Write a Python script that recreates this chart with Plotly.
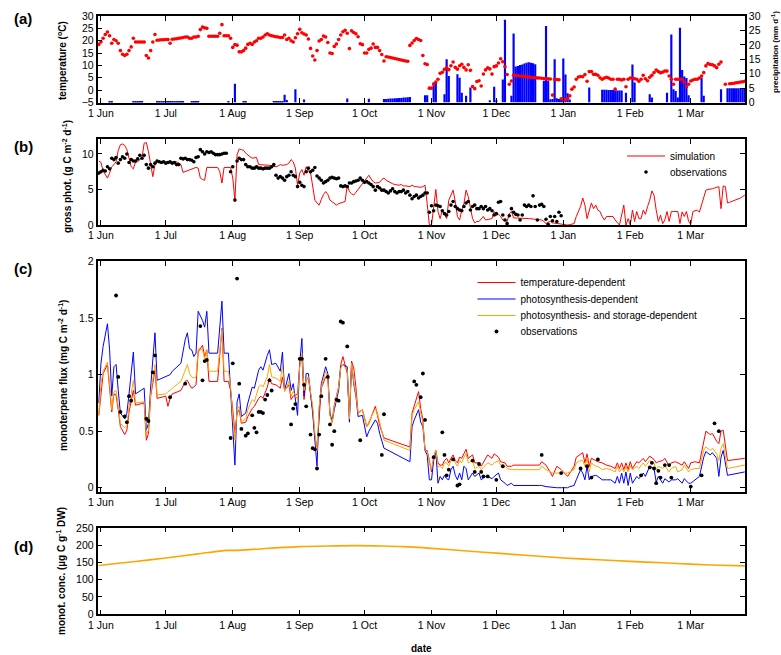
import numpy as np
import pandas as pd
import plotly.graph_objects as go

SEASON_START = pd.Timestamp("2004-06-01")


def to_dates(days):
    return SEASON_START + pd.to_timedelta(np.asarray(days, dtype=float), unit="D")


def daily_dates(first_day, n):
    return to_dates(np.arange(first_day, first_day + n))


# ---------------- (a) daily air temperature (degC), from 31 May ----------------
temp_first_day = -1
temp_may = [18.5]
temp_jun = [19.5, 21, 22.5, 23.5, 22, 19, 20.5, 20, 19, 16, 14.5, 14, 14.5, 16, 17.5, 21, 19.5, 19.5, 19.5, 19.5,
            19.5, 14, 13, 16, 19.5, 22.5, 20.2, 20.3, 20.4, 20.4]
temp_jul = [20.5, 20.5, 19, 20.6, 20.7, 20.8, 21, 21.1, 21.3, 21.5, 21.5, 21, 21, 21.5, 21.5, 21.8, 24.5, 25.5, 25.2,
            25, 21.8, 21.8, 21.8, 21.8, 21.8, 23, 26.5, 22, 22, 22, 21]
temp_aug = [17.3, 18.4, 18.2, 15.5, 15.5, 16, 17, 18.5, 19, 18.5, 19.5, 20, 21, 21, 21.5, 22.3, 22.8, 22.3, 22, 21.8,
            21.6, 21.5, 21.3, 21.3, 22.3, 20.5, 21, 20, 19.5, 21.2, 22.8]
temp_sep = [24.6, 23.2, 22.7, 22.3, 20.7, 16.9, 13.8, 12.2, 16, 19.9, 20.5, 21.9, 21.5, 19.3, 15, 14.8, 17.7, 18.7,
            20.5, 22.3, 23.6, 24.2, 23, 16.8, 24, 23.3, 22.8, 21.6, 18.8, 18.4]
temp_oct = [15, 15, 16.5, 17, 18.7, 17.3, 17.3, 16, 14.4, 11.8, 13.5, 13.4, 13.2, 13.0, 12.8, 12.6, 12.4, 12.2, 12.0,
            11.8, 11.7, 18.1, 19.1, 20.1, 20.9, 20.5, 20.1, 14, 10.7, 10.4, 0.8]
temp_nov = [0.8, 2.5, 3.3, 4.4, 6.8, 7.2, 8.4, 9.0, 8.3, 9.9, 11.4, 9.2, 8.5, 9.9, 10.5, 9.2, 8.2, 10.3, 8.0, 1.5,
            0.6, 3.5, 3.8, 1.7, 6.5, 8.2, 9.0, 8.6, 6.5, 9.5]
temp_dec = [9.8, 11, 12.7, 11.5, 9.5, 6.3, 2.4, 3.7, 6.0, 5.9, 5.8, 5.7, 5.6, 5.5, 5.4, 5.3, 5.2, 5.1, 5.0, 4.95, 4.9,
            4.8, 4.7, 4.6, 4.55, 4.5, -2, 4.35, 4.3, 4.2, -3.5]
temp_jan = [-3.7, -3.7, -3.5, -2.3, 0.4, 1.3, 4.4, 5.3, 5.5, 5.4, 6.3, 3.6, 7.5, 7.5, 6.4, 6.4, 6.0, 5.0, 4.4, 4.9,
            5.2, 4.9, 4.4, 4.4, 0.4, 4.4, 4.4, 4.1, 4.4, 1.4, 4.4]
temp_feb = [4.9, 4.9, 4.6, 4.4, 3.6, 4.4, 6.0, 4.6, 3.8, 5.2, 6.0, 7.1, 8.1, 7.5, 7.0, 7.3, 7.7, 7.7, 5.7, 4.4, 2.4,
            4.4, 4.4, 4.4, 4.4, 3.3, 1.4, 2.4]
temp_mar = [3.7, 4.1, 4.4, 4.4, 4.9, 5.7, 7.1, 9.8, 10.8, 10.4, 10.3, 9.8, 9.1, 10.5, 11.4, None, 2.4, None, 2.6, 2.7,
            2.8, 3.0, 3.1, 3.3, 3.4, 3.6]
temperature = (temp_may + temp_jun + temp_jul + temp_aug + temp_sep + temp_oct + temp_nov + temp_dec + temp_jan
               + temp_feb + temp_mar)

# ---------------- (a) daily precipitation (mm/d), from 31 May ----------------
prec_may = [0]
prec_jun = [0, 0, 0, 0, 0.3, 0.3, 0, 0, 0, 0, 0, 0, 0, 0, 0, 0.3, 0.3, 0.3, 0.3, 0.3, 0, 0, 0, 0, 0, 0, 0.2, 0.2, 0.2,
            0.2]
prec_jul = [0.2, 0.2, 0.2, 0.2, 0.2, 0.2, 0.2, 0.2, 0.2, 0, 0, 0, 0.3, 0.3, 0.3, 0.3, 0, 0, 0, 0, 0, 0, 0, 0, 0, 0, 0,
            0, 0, 0.5, 0]
prec_aug = [0, 6.5, 0, 0, 0, 0.2, 0.2, 0, 0, 0, 0, 0, 0, 0, 0, 0, 0, 0, 0, 0.4, 0.4, 0.4, 0.4, 0.4, 2.7, 0.9, 0, 0, 0,
            4.6, 0]
prec_sep = [0, 0, 1.0, 0, 0, 0, 0, 0, 0, 0, 0, 0, 0, 0, 0, 0, 0, 0, 0, 0, 0, 0, 1.4, 0, 0, 0, 0, 0, 0, 0]
prec_oct = [0, 0, 1.3, 0, 0, 0, 0, 0, 0, 1.2, 1.25, 1.3, 1.35, 1.4, 1.45, 1.5, 1.55, 1.6, 1.7, 1.75, 1.8, 1.9, 0, 0,
            0, 0, 0, 0, 2.5, 2.5, 0]
prec_nov = [0, 6.9, 7.1, 0, 0, 0, 2.9, 15, 9.2, 0, 0, 0, 9.8, 8.6, 3.4, 0, 2.3, 0, 5.2, 0, 0, 0, 0, 0, 0, 0, 0, 0.8,
            0, 5.5]
prec_dec = [0.8, 0, 0, 8, 28.7, 0, 0, 2.3, 23.9, 12.5, 12.7, 13, 13.2, 13.5, 13.8, 14, 13.8, 13.6, 13.3, 0, 0, 0, 7.5,
            26.5, 7.5, 1.1, 1.2, 15, 1.5, 1.2, 1.0]
prec_jan = [15.3, 9.7, 3.2, 1, 0, 0, 0, 0, 0, 0, 0, 0, 5.2, 0, 0, 0, 0, 0, 4.4, 4.4, 4.4, 4.3, 4.3, 4.3, 4.2, 4.2,
            4.2, 4.2, 0, 3.4, 0]
prec_feb = [0, 13.2, 6.9, 0, 0, 0, 0, 0, 0, 2.9, 1.7, 0, 0, 0, 0, 0, 0, 3.4, 0, 23.6, 4.6, 4.0, 1.7, 25.9, 11.3, 9,
            8.5, 2.5]
prec_mar = [0, 0, 0, 0, 0, 8.6, 2.3, 0, 0, 0, 0, 0, 0, 0, 4.6, 0, 0, 4.9, 4.9, 4.9, 4.9, 4.9, 4.9, 4.9, 4.9, 4.9]
precipitation = (prec_may + prec_jun + prec_jul + prec_aug + prec_sep + prec_oct + prec_nov + prec_dec + prec_jan
                 + prec_feb + prec_mar)

# ---------------- (b) gross photosynthesis (g C m-2 d-1) ----------------
gpp_sim_may = [9.0]
gpp_sim_jun = [8.8, 7.6, 7.0, 6.6, 7.3, 8.2, 8.5, 8.9, 10.5, 11.3, 11.4, 11.2, 10.6, 9.4, 8.2, 7.9, 8.9, 8.9, 9.2, 9.5,
               11.5, 11.6, 10.3, 8.7, 6.8, 8.5, 8.9, 8.9, 8.9, 8.8]
gpp_sim_jul = [8.9, 8.8, 8.7, 8.8, 8.8, 8.9, 8.7, 8.5, 7.4, 7.5, 7.6, 7.7, 7.9, 8.0, 8.1, 8.0, 6.6, 6.4, 6.3, 8.1, 8.1,
               8.1, 8.1, 8.1, 8.1, 7.5, 5.9, 8.1, 8.1, 8.1, 8.1]
gpp_sim_aug = [6.6, 3.5, 9.9, 10.7, 10.6, 10.5, 10.1, 9.8, 9.6, 9.4, 9.5, 9.5, 8.5, 8.5, 8.45, 8.4, 8.4, 8.4, 8.3, 8.2,
               8.2, 8.3, 8.5, 8.4, 8.4, 8.5, 8.7, 9.2, 8.9, 8.0, 5.6]
gpp_sim_sep = [7.3, 7.8, 7.0, 8.2, 7.6, 7.4, 5.2, 3.5, 3.1, 2.8, 3.6, 4.3, 4.7, 4.3, 3.5, 3.3, 3.1, 2.8, 3.0, 3.1, 3.2,
               3.3, 5.6, 4.7, 4.4, 4.2, 4.6, 5.0, 5.4, 5.7]
gpp_sim_oct = [6.2, 6.6, 7.0, 6.5, 6.1, 5.9, 5.95, 6.0, 6.4, 6.6, 6.3, 6.1, 6.0, 5.8, 5.7, 5.6, 5.6, 5.7, 5.5, 5.5,
               5.4, 5.4, 5.6, 5.4, 5.4, 5.3, 5.3, 5.4, 5.6, 3.0, 0]
gpp_sim_nov = [0, 2.5, 5.0, 1.9, 0.9, 2.1, 1.4, 0.9, 3.5, 4.1, 4.9, 3.3, 1.2, 0.7, 2.1, 3.0, 4.9, 4.0, 2.6, 0.9, 0.3,
               0.5, 0.5, 0.8, 1.2, 0.7, 0.8, 0.9, 0.9, 1.9]
gpp_sim_dec = [1.4, 1.5, 1.2, 0.7, 0.6, 0.5, 1.6, 1.9, 1.0, 1.0, 1.0, 0.98, 0.96, 0.94, 0.92, 0.9, 0.88, 0.86, 0.84,
               0.82, 0.8, 0.7, 0.5, 0.2, 0.4, 0.5, 0.3, 0.25, 0.2, 0.1, 0.05]
gpp_sim_jan = [0, 0, 0, 0.05, 0.1, 0.2, 1.2, 2.0, 2.6, 3.8, 2.8, 0.9, 2.1, 3.1, 2.3, 2.8, 2.1, 1.9, 1.2, 0.7, 1.2, 1.2,
               1.2, 1.2, 0.7, 0.3, 0, 1.4, 2.8, 0, 0.9]
gpp_sim_feb = [0, 2.1, 0.5, 1.9, 0.9, 0.9, 2.1, 1.5, 2.6, 3.5, 4.8, 4.2, 2.1, 0.5, 1.4, 0.2, 0.7, 1.9, 0.5, 1.9, 1.9,
               1.9, 1.9, 0.2, 1.85, 1.2, 1.9, 0.5]
gpp_sim_mar = [0.1, 1.9, 2.0, 2.1, 1.8, 2.8, 4.0, 4.9, 5.0, 5.0, 5.1, 5.2, 5.3, 5.4, 2.3, 5.5, 5.4, 3.1, 3.2, 3.3, 3.4,
               3.5, 3.7, 3.8, 4.0, 4.2]
gpp_simulation = (gpp_sim_may + gpp_sim_jun + gpp_sim_jul + gpp_sim_aug + gpp_sim_sep + gpp_sim_oct + gpp_sim_nov
                  + gpp_sim_dec + gpp_sim_jan + gpp_sim_feb + gpp_sim_mar)

# observations: 31 May - 29 Jul, then 30 Jul - 1 Jan
gpp_obs_first_day_1 = -1
gpp_obs_1 = [7.3, 7.5, 7.7, 7.6, 8.2, 7.9, 9.4, 9.2, 9.5, 8.7, 9.2, 9.6, 9.4, 10.0, 8.8, 9.2, 9.0, 9.0, 9.3, 9.8,
             9.4, 9.8, 8.5, 8.0, 8.5, 8.2, 8.7, 9.0, 8.9, 8.8, 8.9, 8.7, 8.8, 8.9, 8.7, 8.8, 8.5, 8.5, 9.4, 9.3,
             9.4, 9.2, 9.2, 9.1, 8.9, 9.5, 9.6, 10.6, 10.3, 10.0, 10.3, 10.2, 10.3, 10.1, 9.9, 9.9, 9.9, 10.0, 10.1,
             10.1]
gpp_obs_first_day_2 = 60
gpp_obs_2 = [7.5, 8.2, 3.5, 9.0, 9.4, 9.2, 9.2, 8.5, 8.2, 8.2, 8.0, 8.0, 8.2, 8.0, 8.0, 7.9, 8.0, 8.0, 8.0, 8.2,
             8.5, 7.0, 6.6, 6.8, 6.6, 6.3, 6.8, 7.0, 7.5, 7.0, 6.8, 5.4, 6.0, 5.6, 5.4, 7.5, 8.0, 7.5, 7.7, 8.1,
             6.9, 6.6, 6.3, 5.9, 6.1, 6.3, 6.6, 6.7, 6.6, 6.5, 6.6, 5.5, 5.4, 5.5, 5.4, 5.9, 5.9, 6.1, 6.2, 6.3,
             6.6, 6.3, 6.0, 6.1, 5.9, 5.7, 5.4, 4.9, 5.4, 5.2, 4.9, 4.9, 4.7, 4.5, 4.8, 5.1, 4.7, 4.5,
             4.7, 4.7, 4.9, 4.5, 4.7, 4.2, 3.7, 4.0, 4.2, 3.8, 4.0, 4.2, 4.5, 4.5,
             1.8, 2.7, 2.0, 2.8, 2.7, 2.6, 2.0, 1.6, 1.4, 1.9, 2.8, 3.3, 2.6, 2.3, 2.1, 2.0, 2.6, 3.1, 3.3, 2.1,
             2.6, 2.8, 2.3, 2.3, 2.6, 2.3, 2.6, 2.1, 2.3, 2.0, 1.4, 1.6, 3.2, 3.3, 1.4, 0.7, 0.2, 1.3, 2.3, 1.8,
             1.5, 1.4, 0.7, 1.4, 2.8, 2.6, 2.8, 2.6, 4.1, 2.6, 0.7, 2.8, 2.9, 2.6, 0.8, 0.1, 1.2, 0.6, 1.2, 0.5,
             1.8, 1.3]

# ---------------- (c) monoterpene flux (mg C m-2 d-1) ----------------
mono_days = [-1, 0, 1, 3, 4, 5, 6, 7, 8, 9, 11, 12, 13, 15, 16, 20, 21, 22, 23, 25, 26, 30, 31, 32, 33, 37, 39, 40,
             41, 42, 43, 44, 45, 47, 48, 49, 50, 54, 56, 57, 59, 60, 61, 62, 63, 64, 65, 67, 68, 70, 71, 73, 74, 75,
             77, 78, 79, 81, 83, 84, 85, 87, 88, 89, 91, 92, 93, 94, 95, 96, 98, 99, 100, 101, 102, 104, 105, 106,
             107, 108, 110, 111, 112, 114, 115, 116, 117, 118, 119, 121, 123, 124, 127, 128, 129, 131, 143, 144,
             145, 147, 148, 149, 150, 151, 152, 153, 154, 155, 156, 157, 158, 159, 160, 161, 162, 163, 164, 165,
             166, 167, 168, 169, 170, 172, 173, 175, 176, 178, 179, 181, 182, 184, 185, 187, 188, 190, 191, 203,
             204, 206, 209, 211, 213, 216, 217, 219, 220, 222, 223, 224, 225, 226, 227, 229, 230, 232, 234, 236,
             238, 239, 240, 241, 242, 243, 244, 245, 246, 248, 249, 251, 252, 254, 256, 257, 258, 260, 261, 263,
             264, 266, 267, 269, 270, 272, 273, 275, 277, 279, 280, 282, 283, 285, 286, 287, 288, 290, 298]
mono_temperature_dep = [
    0.64, 0.86, 1.01, 1.09, 0.89, 0.67, 0.83, 0.82, 0.69, 0.54, 0.47, 0.51, 0.67, 0.86, 0.73, 0.75, 0.42, 0.48,
    0.81, 1.04, 0.79, 0.81, 0.72, 0.79, 0.83, 0.86, 0.94, 0.95, 0.91, 0.88, 0.89, 0.91, 1.2, 1.26, 1.16, 1.22,
    0.94, 0.94, 1.41, 0.94, 0.94, 0.86, 0.69, 0.48, 0.66, 0.69, 0.57, 0.58, 0.63, 0.7, 0.72, 0.79, 0.81, 0.79,
    0.89, 0.97, 0.92, 0.91, 0.88, 0.98, 0.86, 0.91, 0.78, 0.81, 0.83, 1.09, 1.16, 0.78, 0.95, 0.97, 0.69, 0.45,
    0.36, 0.66, 0.88, 0.98, 0.97, 0.64, 0.6, 0.73, 0.89, 1.09, 1.16, 1.01, 0.63, 1.12, 1.06, 0.89, 0.66, 0.69,
    0.54, 0.57, 0.72, 0.64, 0.55, 0.44, 0.36, 0.66, 0.72, 0.85, 0.7, 0.6, 0.33, 0.33, 0.24, 0.14, 0.27, 0.33,
    0.22, 0.2, 0.2, 0.24, 0.26, 0.22, 0.26, 0.29, 0.24, 0.22, 0.27, 0.26, 0.3, 0.34, 0.26, 0.29, 0.22, 0.22,
    0.19, 0.26, 0.29, 0.26, 0.3, 0.27, 0.23, 0.22, 0.19, 0.19, 0.2, 0.2, 0.23, 0.2, 0.1, 0.19, 0.16, 0.1, 0.13,
    0.19, 0.27, 0.3, 0.31, 0.22, 0.3, 0.19, 0.26, 0.24, 0.23, 0.22, 0.2, 0.19, 0.17, 0.22, 0.17, 0.22, 0.16,
    0.22, 0.16, 0.23, 0.17, 0.23, 0.22, 0.26, 0.23, 0.28, 0.25, 0.22, 0.23, 0.24, 0.26, 0.19, 0.22, 0.23, 0.22,
    0.2, 0.23, 0.17, 0.22, 0.23, 0.22, 0.42, 0.5, 0.47, 0.48, 0.41, 0.39, 0.5, 0.51, 0.24, 0.26]
mono_photosynthesis_dep = [
    0.75, 1.1, 1.25, 1.45, 1.22, 0.81, 1.07, 1.09, 0.86, 0.66, 0.61, 0.66, 0.83, 1.2, 0.83, 0.88, 0.51, 0.57,
    0.89, 1.37, 0.95, 0.98, 0.99, 1.0, 1.03, 1.1, 1.31, 1.37, 1.23, 1.22, 1.16, 1.19, 1.56, 1.48, 1.42, 1.56,
    1.19, 1.19, 1.65, 1.19, 1.19, 0.86, 0.48, 0.2, 0.76, 0.83, 0.63, 0.66, 0.75, 0.89, 0.88, 1.04, 1.07, 1.04,
    1.17, 1.22, 1.09, 1.1, 1.03, 1.2, 0.86, 1.01, 0.86, 0.92, 0.64, 1.1, 1.32, 0.81, 1.01, 1.01, 0.66, 0.42,
    0.19, 0.69, 0.92, 1.07, 1.01, 0.66, 0.58, 0.69, 0.86, 1.07, 1.09, 1.07, 0.58, 1.1, 0.92, 0.81, 0.63, 0.64,
    0.45, 0.5, 0.6, 0.57, 0.48, 0.35, 0.23, 0.54, 0.6, 0.69, 0.58, 0.54, 0.33, 0.29, 0.07, 0.07, 0.24, 0.32,
    0.04, 0.1, 0.07, 0.11, 0.08, 0.07, 0.16, 0.19, 0.11, 0.07, 0.13, 0.07, 0.19, 0.17, 0.07, 0.13, 0.1, 0.13,
    0.07, 0.1, 0.1, 0.08, 0.1, 0.13, 0.07, 0.04, 0.02, 0.04, 0.02, 0.02, 0.02, 0.01, 0.0, 0.0, 0.0, 0.0, 0.01,
    0.02, 0.07, 0.16, 0.13, 0.07, 0.19, 0.07, 0.1, 0.11, 0.1, 0.07, 0.07, 0.07, 0.04, 0.1, 0.04, 0.13, 0.04,
    0.14, 0.02, 0.13, 0.04, 0.1, 0.08, 0.13, 0.1, 0.19, 0.17, 0.05, 0.1, 0.04, 0.08, 0.05, 0.07, 0.07, 0.08,
    0.04, 0.08, 0.04, 0.04, 0.07, 0.1, 0.27, 0.32, 0.29, 0.31, 0.26, 0.1, 0.27, 0.33, 0.11, 0.14]
mono_storage_dep = [
    0.64, 0.92, 1.03, 1.11, 0.92, 0.69, 0.85, 0.86, 0.72, 0.57, 0.53, 0.55, 0.72, 0.95, 0.75, 0.76, 0.47, 0.51,
    0.83, 1.09, 0.82, 0.83, 0.85, 0.86, 0.88, 0.94, 1.04, 1.09, 1.01, 0.98, 0.97, 0.98, 1.23, 1.22, 1.14, 1.22,
    1.03, 1.03, 1.4, 1.03, 1.03, 0.89, 0.63, 0.42, 0.69, 0.72, 0.58, 0.61, 0.69, 0.78, 0.76, 0.89, 0.91, 0.89,
    0.98, 1.09, 0.98, 0.97, 0.94, 1.09, 0.85, 0.94, 0.81, 0.85, 0.78, 1.07, 1.19, 0.86, 0.97, 0.98, 0.72, 0.48,
    0.33, 0.72, 0.89, 1.03, 0.98, 0.64, 0.57, 0.72, 0.89, 1.06, 1.09, 1.04, 0.61, 1.1, 0.94, 0.83, 0.66, 0.69,
    0.54, 0.58, 0.7, 0.66, 0.57, 0.42, 0.33, 0.64, 0.69, 0.76, 0.66, 0.58, 0.33, 0.32, 0.22, 0.16, 0.27, 0.33,
    0.19, 0.19, 0.17, 0.22, 0.22, 0.19, 0.24, 0.27, 0.22, 0.19, 0.24, 0.22, 0.27, 0.3, 0.22, 0.24, 0.17, 0.19,
    0.16, 0.2, 0.22, 0.2, 0.22, 0.24, 0.2, 0.19, 0.17, 0.16, 0.16, 0.16, 0.19, 0.16, 0.13, 0.13, 0.13, 0.13,
    0.14, 0.16, 0.22, 0.24, 0.24, 0.19, 0.26, 0.14, 0.22, 0.19, 0.19, 0.16, 0.17, 0.16, 0.14, 0.19, 0.14, 0.17,
    0.14, 0.19, 0.14, 0.19, 0.16, 0.19, 0.17, 0.22, 0.19, 0.24, 0.22, 0.16, 0.19, 0.17, 0.19, 0.14, 0.17, 0.19,
    0.14, 0.16, 0.2, 0.14, 0.16, 0.17, 0.17, 0.33, 0.36, 0.33, 0.35, 0.3, 0.24, 0.35, 0.39, 0.17, 0.2]

mono_obs_days = [7, 8, 9, 11, 12, 13, 14, 21, 22, 24, 25, 32, 39, 46, 47, 48, 49, 60, 61, 63, 64, 65, 67, 68, 70,
                 71, 72, 73, 74, 75, 76, 77, 78, 79, 88, 89, 90, 92, 93, 94, 95, 97, 98, 99, 100, 101, 102, 104,
                 105, 106, 107, 108, 109, 110, 111, 112, 114, 120, 130, 131, 145, 146, 148, 149, 150, 154, 158,
                 159, 160, 161, 163, 165, 166, 172, 173, 175, 176, 177, 179, 183, 186, 204, 213, 222, 225, 227,
                 230, 250, 254, 255, 256, 257, 258, 259, 261, 263, 264, 273, 278, 284, 286]
mono_obs = [1.7, 0.98, 0.67, 0.63, 0.58, 0.81, 0.77, 0.61, 0.59, 1.02, 1.17, 0.8, 0.92, 1.43, 0.95, 1.12, 1.13,
            0.44, 1.1, 1.85, 0.92, 0.52, 0.46, 0.48, 0.64, 0.53, 0.49, 0.67, 0.67, 0.66, 0.78, 0.82, 0.95, 0.86,
            0.56, 0.7, 0.74, 1.14, 1.14, 0.91, 0.72, 0.47, 0.35, 0.34, 0.17, 0.47, 0.81, 1.14, 0.98, 0.56, 0.38,
            0.5, 0.78, 0.77, 1.47, 1.46, 1.25, 0.42, 0.29, 0.65, 0.94, 0.91, 0.8, 1.01, 0.6, 0.27, 0.49, 0.29,
            0.11, 0.16, 0.25, 0.02, 0.03, 0.24, 0.14, 0.21, 0.14, 0.1, 0.1, 0.07, 0.19, 0.29, 0.13, 0.17, 0.19,
            0.09, 0.25, 0.11, 0.18, 0.22, 0.17, 0.04, 0.15, 0.09, 0.2, 0.2, 0.09, 0.01, 0.11, 0.57, 0.5]

# ---------------- (d) monoterpene storage concentration (ug C g-1 DW) ----------------
conc_days = [-1, 0, 15, 30, 45, 58, 62, 75, 92, 105, 118, 130, 140, 153, 168, 183, 198, 214, 230, 245, 260, 273,
             286, 298]
conc_values = [141, 142, 152, 163, 175, 185, 185, 190, 196, 198, 199, 198, 196, 191, 184, 177, 170, 163, 158, 153,
               149, 145, 142, 140]

assert len(temperature) == 300 and len(precipitation) == 300 and len(gpp_simulation) == 300
assert len(gpp_obs_1) == 60 and len(gpp_obs_2) == 154
assert len(mono_days) == len(mono_temperature_dep) == len(mono_photosynthesis_dep) == len(mono_storage_dep)
assert len(mono_obs_days) == len(mono_obs)
assert len(conc_days) == len(conc_values)

# ---------------- figure ----------------
RED, BLUE, ORANGE = "#ff0000", "#0000ff", "#ffa500"
FONT = "Liberation Sans, Arial, Helvetica, sans-serif"
W, H = 781, 655

daily_x = daily_dates(temp_first_day, 300)
gpp_obs_x = list(daily_dates(gpp_obs_first_day_1, len(gpp_obs_1))) + list(
    daily_dates(gpp_obs_first_day_2, len(gpp_obs_2)))
gpp_obs_y = gpp_obs_1 + gpp_obs_2

fig = go.Figure()
fig.add_trace(go.Bar(x=daily_x, y=precipitation, xaxis="x", yaxis="y", marker=dict(color=BLUE, line=dict(width=0)),
                     width=86400000, showlegend=False))
fig.add_trace(go.Scatter(x=daily_x, y=temperature, xaxis="x", yaxis="y2", mode="markers",
                         marker=dict(color=RED, size=3.6), showlegend=False))

fig.add_trace(go.Scatter(x=daily_x, y=gpp_simulation, xaxis="x2", yaxis="y3", mode="lines",
                         line=dict(color=RED, width=1), name="simulation", legend="legend"))
fig.add_trace(go.Scatter(x=gpp_obs_x, y=gpp_obs_y, xaxis="x2", yaxis="y3", mode="markers",
                         marker=dict(color="black", size=3.6), name="observations", legend="legend3"))

mono_x = to_dates(mono_days)
fig.add_trace(go.Scatter(x=mono_x, y=mono_temperature_dep, xaxis="x3", yaxis="y4", mode="lines",
                         line=dict(color=RED, width=1), name="temperature-dependent", legend="legend2"))
fig.add_trace(go.Scatter(x=mono_x, y=mono_photosynthesis_dep, xaxis="x3", yaxis="y4", mode="lines",
                         line=dict(color=BLUE, width=1), name="photosynthesis-dependent", legend="legend4"))
fig.add_trace(go.Scatter(x=mono_x, y=mono_storage_dep, xaxis="x3", yaxis="y4", mode="lines",
                         line=dict(color=ORANGE, width=1), name="photosynthesis- and storage-dependent",
                         legend="legend5"))
fig.add_trace(go.Scatter(x=to_dates(mono_obs_days), y=mono_obs, xaxis="x3", yaxis="y4", mode="markers",
                         marker=dict(color="black", size=3.8), name="observations", legend="legend6"))

fig.add_trace(go.Scatter(x=to_dates(conc_days), y=conc_values, xaxis="x4", yaxis="y5", mode="lines",
                         line=dict(color=ORANGE, width=1.6, shape="spline", smoothing=0.8), showlegend=False))

x_dom = [97.5 / W, 745 / W]


def ydom(top_px, bottom_px):
    return [1 - bottom_px / H, 1 - top_px / H]


tickfont = dict(family=FONT, size=10.5, color="black")
x_range = [to_dates([-1.6])[0], to_dates([298.1])[0]]
x_common = dict(type="date", range=x_range, domain=x_dom, tickformat="%-d %b", dtick="M1", tick0="2004-06-01",
                ticks="inside", ticklen=5, tickwidth=1, tickcolor="black", mirror="ticks", showline=True,
                linecolor="black", linewidth=1.5, showgrid=False, zeroline=False, tickfont=tickfont,
                automargin=False)
y_common = dict(ticks="inside", ticklen=5, tickwidth=1, tickcolor="black", showline=True, linecolor="black",
                linewidth=1.5, showgrid=False, zeroline=False, tickfont=tickfont, automargin=False)


def legend_at(x_px, y_px):
    return dict(x=x_px / W, y=1 - y_px / H, xanchor="left", yanchor="middle", bgcolor="rgba(0,0,0,0)",
                font=dict(family=FONT, size=10, color="black"), itemwidth=38, tracegroupgap=0, borderwidth=0)


fig.update_layout(
    template="none",
    width=W, height=H, autosize=False, margin=dict(l=0, r=0, t=0, b=0, pad=0),
    paper_bgcolor="white", plot_bgcolor="white", font=dict(family=FONT, color="black"),
    barmode="overlay",
    xaxis=dict(x_common, anchor="y"),
    yaxis=dict(y_common, domain=ydom(16, 102.5), anchor="x", side="right", range=[0, 30], dtick=5),
    yaxis2=dict(y_common, overlaying="y", anchor="x", side="left", range=[-5, 30], dtick=5),
    xaxis2=dict(x_common, anchor="y3"),
    yaxis3=dict(y_common, domain=ydom(139, 225), anchor="x2", range=[0, 12.1], tickvals=[0, 5, 10], mirror="ticks"),
    xaxis3=dict(x_common, anchor="y4"),
    yaxis4=dict(y_common, domain=ydom(261, 491.7), anchor="x3", range=[-0.035, 2.005],
                tickvals=[0, 0.5, 1, 1.5, 2], mirror="ticks"),
    xaxis4=dict(x_common, anchor="y5"),
    yaxis5=dict(y_common, domain=ydom(527.7, 614.3), anchor="x4", range=[-0.8, 251], dtick=50, mirror="ticks"),
    legend=legend_at(622, 156),
    legend3=legend_at(622, 172),
    legend2=legend_at(472.5, 282.5),
    legend4=legend_at(472.5, 299),
    legend5=legend_at(472.5, 315.5),
    legend6=legend_at(472.5, 331.5),
)

title_font = dict(family=FONT, size=10, color="black")
annotations = [
    dict(text="<b>(a)</b>", x=23 / W, y=1 - 19 / H, font=dict(family=FONT, size=15)),
    dict(text="<b>(b)</b>", x=23 / W, y=1 - 147 / H, font=dict(family=FONT, size=15)),
    dict(text="<b>(c)</b>", x=23 / W, y=1 - 268 / H, font=dict(family=FONT, size=15)),
    dict(text="<b>(d)</b>", x=23 / W, y=1 - 546 / H, font=dict(family=FONT, size=15)),
    dict(text="<b>temperature (<sup>o</sup>C)</b>", x=62 / W, y=1 - 60 / H, textangle=-90, font=title_font),
    dict(text="<b>precipitation (mm d<sup>-1</sup>)</b>", x=775 / W, y=1 - 52 / H, textangle=-90,
         font=dict(family=FONT, size=8, color="black")),
    dict(text="<b>gross phot. (g C m<sup>-2</sup> d<sup>-1</sup>)</b>", x=67 / W, y=1 - 177 / H, textangle=-90,
         font=title_font),
    dict(text="<b>monoterpene flux (mg C m<sup>-2</sup> d<sup>-1</sup>)</b>", x=63 / W, y=1 - 376 / H,
         textangle=-90, font=title_font),
    dict(text="<b>monot. conc. (\u00b5g C g<sup>-1</sup> DW)</b>", x=61 / W, y=1 - 571 / H, textangle=-90,
         font=title_font),
    dict(text="<b>date</b>", x=422 / W, y=1 - 648 / H, font=title_font),
]
for a in annotations:
    a.update(xref="paper", yref="paper", showarrow=False, xanchor="center", yanchor="middle")
fig.update_layout(annotations=annotations)

fig.write_html("out.html", config={"displayModeBar": False},
               post_script="document.body.style.margin='0px';")
